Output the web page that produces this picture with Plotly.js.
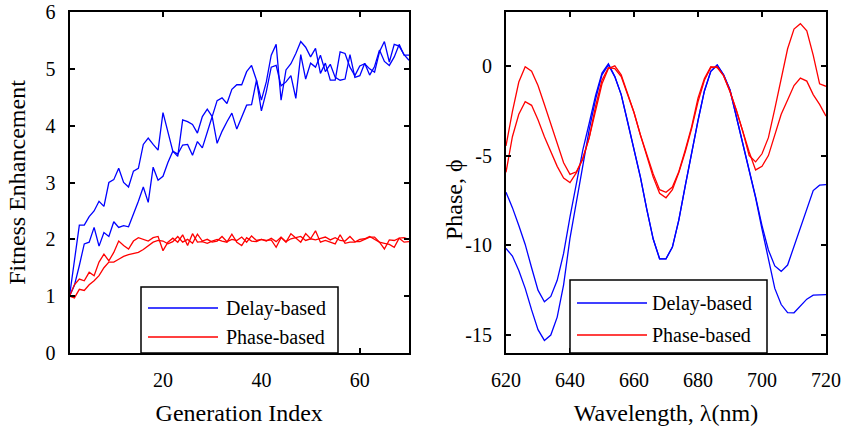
<!DOCTYPE html>
<html>
<head>
<meta charset="utf-8">
<script src="https://cdn.plot.ly/plotly-3.0.1.min.js"></script>
<style>
html,body{margin:0;padding:0;background:#fff;font-family:"Liberation Serif",serif;}
#preload{position:absolute;left:-5000px;top:-5000px;font-family:"Liberation Serif";font-size:20px;}
</style>
</head>
<body>
<span id="preload">.</span>
<div id="chart" style="width:845px;height:429px"></div>
<script>
// ---------- Left panel: fitness enhancement vs generation ----------
const generation = [1,2,3,4,5,6,7,8,9,10,11,12,13,14,15,16,17,18,19,20,21,22,23,24,25,26,27,28,29,30,31,32,33,34,35,36,37,38,39,40,41,42,43,44,45,46,47,48,49,50,51,52,53,54,55,56,57,58,59,60,61,62,63,64,65,66,67,68,69,70];
const delayFitA = [1.00,1.60,2.25,2.25,2.40,2.50,2.67,2.58,3.00,3.05,3.25,3.00,2.92,3.20,3.25,3.67,3.78,3.67,3.57,4.23,3.90,3.55,3.46,4.10,4.07,4.02,3.87,4.16,4.29,4.16,4.44,4.49,4.39,4.64,4.72,4.72,4.95,5.06,4.80,4.45,4.77,5.24,5.43,4.45,4.98,5.09,5.27,5.48,5.38,5.21,5.36,4.92,5.10,4.80,4.80,5.30,5.27,5.03,4.88,5.05,5.09,5.00,4.94,5.30,5.48,5.12,5.43,5.40,5.25,5.15];
const delayFitB = [1.00,1.19,1.54,1.92,1.95,2.21,1.88,2.12,2.05,2.31,2.21,2.24,2.22,2.44,2.67,2.92,2.65,3.27,3.04,3.11,3.35,3.55,3.50,3.66,3.67,3.48,3.72,3.61,3.90,4.16,3.69,3.90,4.07,4.22,3.94,4.16,4.36,4.37,4.80,4.26,4.60,5.03,5.06,4.70,4.77,4.88,4.48,5.25,4.82,5.10,5.03,5.24,4.95,5.08,4.85,4.80,4.82,5.25,4.85,4.88,5.10,4.89,5.04,5.33,5.13,5.06,5.21,5.43,5.24,5.24];
const phaseFitA = [1.00,1.20,1.30,1.27,1.42,1.36,1.60,1.74,1.62,1.77,1.97,1.89,1.83,1.97,2.03,2.00,1.97,2.03,2.05,1.80,1.95,2.02,1.95,2.08,1.89,2.10,1.95,1.96,1.93,1.97,2.00,1.97,1.95,2.09,1.95,1.89,2.03,1.97,1.96,2.00,1.98,1.99,1.86,2.03,1.95,2.10,2.03,1.95,2.10,2.01,2.15,1.95,1.98,1.95,1.92,2.08,1.93,1.95,1.95,2.00,2.01,2.05,2.00,1.95,1.83,1.99,1.98,2.02,1.95,1.96];
const phaseFitB = [1.00,0.97,1.12,1.10,1.20,1.27,1.36,1.50,1.60,1.60,1.65,1.70,1.73,1.75,1.77,1.82,1.88,1.95,1.98,1.97,1.92,1.96,2.05,1.95,2.00,1.93,2.09,1.97,2.00,1.95,1.97,2.05,1.96,2.00,1.98,2.04,1.95,2.06,1.98,2.00,1.97,2.02,1.96,2.04,1.96,2.01,2.03,2.05,1.98,2.01,1.99,2.01,2.04,1.99,2.03,1.98,1.97,2.05,1.96,1.96,2.00,2.04,2.04,1.95,1.93,1.91,1.86,2.02,2.03,2.00];
const leftYTicks = [0,1,2,3,4,5,6];
const leftXTicks = [20,40,60];

// ---------- Right panel: phase vs wavelength ----------
const wavelength = [620,622,624,626,628,630,632,634,636,638,640,642,644,646,648,650,652,654,656,658,660,662,664,666,668,670,672,674,676,678,680,682,684,686,688,690,692,694,696,698,700,702,704,706,708,710,712,714,716,718,720];
const delayPhaseA = [-7.04,-7.90,-8.90,-9.95,-11.25,-12.50,-13.15,-12.85,-11.95,-10.45,-8.42,-6.45,-4.70,-3.20,-1.65,-0.40,0.12,-0.60,-1.60,-3.10,-4.65,-6.20,-8.00,-9.65,-10.75,-10.75,-10.10,-8.60,-6.70,-4.80,-3.05,-1.40,-0.30,0.05,-0.50,-1.35,-2.85,-4.20,-5.70,-7.30,-8.90,-10.26,-11.15,-11.45,-11.10,-10.05,-8.95,-7.95,-6.95,-6.65,-6.62];
const delayPhaseB = [-10.17,-10.60,-11.40,-12.40,-13.60,-14.70,-15.30,-15.00,-14.00,-12.20,-9.60,-7.60,-5.60,-3.55,-1.85,-0.50,0.05,-0.60,-1.60,-3.10,-4.65,-6.20,-8.00,-9.65,-10.75,-10.75,-10.10,-8.60,-6.70,-4.80,-3.05,-1.40,-0.30,0.05,-0.50,-1.35,-2.85,-4.20,-5.70,-7.35,-9.10,-10.80,-12.40,-13.30,-13.75,-13.76,-13.40,-13.00,-12.78,-12.75,-12.75];
const phasePhaseA = [-4.46,-2.55,-0.90,-0.05,-0.30,-1.10,-2.15,-3.20,-4.30,-5.40,-6.05,-5.90,-5.20,-4.00,-2.25,-0.80,-0.10,-0.15,-0.60,-1.60,-2.60,-3.85,-5.00,-6.02,-6.90,-7.05,-6.75,-5.90,-4.70,-3.40,-1.80,-0.70,-0.05,-0.10,-0.55,-1.45,-2.47,-3.65,-5.00,-5.35,-4.90,-4.00,-2.40,-0.70,0.95,2.05,2.35,1.95,0.60,-1.00,-1.14];
const phasePhaseB = [-5.93,-3.95,-2.70,-2.00,-2.20,-3.00,-3.95,-4.75,-5.60,-6.25,-6.50,-5.95,-5.15,-4.00,-2.45,-1.00,-0.15,0.00,-0.50,-1.50,-2.60,-3.85,-5.10,-6.20,-7.10,-7.35,-6.90,-5.95,-4.80,-3.50,-2.00,-0.80,-0.10,-0.05,-0.55,-1.40,-2.50,-3.70,-4.80,-5.80,-5.60,-5.00,-3.80,-2.70,-1.90,-1.10,-0.68,-0.85,-1.60,-2.15,-2.80];
const rightYTicks = [0,-5,-10,-15];
const rightYTickText = ['0','-5','-10','-15'];
const rightXTicks = [620,640,660,680,700,720];

const legendLabels = ['Delay-based','Phase-based'];
const BLUE = '#0000ff', RED = '#ff0000';
const SERIF = 'Liberation Serif';

function makeLine(x, y, color, xa, ya) {
  return {x: x, y: y, type: 'scatter', mode: 'lines', xaxis: xa, yaxis: ya,
          line: {color: color, width: 1.3}, showlegend: false, hoverinfo: 'skip'};
}

const FIG_W = 845, FIG_H = 429, TOPM = 12;
const fx = v => v / FIG_W;
const fy = v => 1 - (v - TOPM) / (FIG_H - TOPM);

function axisBase() {
  return {
    showline: true, linecolor: '#000', linewidth: 2, mirror: 'ticks',
    ticks: 'inside', ticklen: 5, tickwidth: 2, tickcolor: '#000',
    showgrid: false, zeroline: false, automargin: false,
    ticklabeloverflow: 'allow',
    tickfont: {family: SERIF, size: 20, color: '#000'}
  };
}

function legendBox(x0, x1, yTop, yBot, yDelay, yPhase, lx0, lx1, tx) {
  const shapes = [
    {type: 'rect', xref: 'paper', yref: 'paper', x0: fx(x0), x1: fx(x1), y0: fy(yBot), y1: fy(yTop),
     line: {color: '#000', width: 1.5}, fillcolor: '#fff', layer: 'above'},
    {type: 'line', xref: 'paper', yref: 'paper', x0: fx(lx0), x1: fx(lx1), y0: fy(yDelay), y1: fy(yDelay),
     line: {color: BLUE, width: 1.3}, layer: 'above'},
    {type: 'line', xref: 'paper', yref: 'paper', x0: fx(lx0), x1: fx(lx1), y0: fy(yPhase), y1: fy(yPhase),
     line: {color: RED, width: 1.3}, layer: 'above'}
  ];
  const ann = [
    {xref: 'paper', yref: 'paper', x: fx(tx), y: fy(yDelay), xanchor: 'left', yanchor: 'middle',
     text: legendLabels[0], showarrow: false, font: {family: SERIF, size: 20, color: '#000'}},
    {xref: 'paper', yref: 'paper', x: fx(tx), y: fy(yPhase), xanchor: 'left', yanchor: 'middle',
     text: legendLabels[1], showarrow: false, font: {family: SERIF, size: 20, color: '#000'}}
  ];
  return {shapes: shapes, ann: ann};
}

function draw() {
  const data = [
    makeLine(generation, delayFitA, BLUE, 'x', 'y'),
    makeLine(generation, delayFitB, BLUE, 'x', 'y'),
    makeLine(generation, phaseFitA, RED, 'x', 'y'),
    makeLine(generation, phaseFitB, RED, 'x', 'y'),
    makeLine(wavelength, delayPhaseA, BLUE, 'x2', 'y2'),
    makeLine(wavelength, delayPhaseB, BLUE, 'x2', 'y2'),
    makeLine(wavelength, phasePhaseA, RED, 'x2', 'y2'),
    makeLine(wavelength, phasePhaseB, RED, 'x2', 'y2')
  ];
  const legL = legendBox(141, 338, 287, 353, 308, 337, 148, 218, 224);
  const legR = legendBox(570, 767, 280, 353, 303, 335, 577, 647, 650);
  const phaseTitle = {xref: 'paper', yref: 'paper', x: fx(454), y: fy(200), xanchor: 'center', yanchor: 'middle',
    text: 'Phase, ϕ', textangle: -90, showarrow: false, font: {family: SERIF, size: 24, color: '#000'}};
  const layout = {
    width: FIG_W, height: FIG_H,
    margin: {l: 0, r: 0, t: TOPM, b: 0},
    paper_bgcolor: '#fff', plot_bgcolor: '#fff',
    showlegend: false,
    font: {family: SERIF, size: 20, color: '#000'},
    xaxis: Object.assign(axisBase(), {
      domain: [fx(69.5), fx(409)], range: [1, 70], tickvals: leftXTicks,
      title: {text: 'Generation Index', font: {family: SERIF, size: 24, color: '#000'}, standoff: 14},
      ticklabelstandoff: 8, anchor: 'y'
    }),
    yaxis: Object.assign(axisBase(), {
      domain: [fy(353), 1], range: [0, 6], tickvals: leftYTicks,
      title: {text: 'Fitness Enhancement', font: {family: SERIF, size: 24, color: '#000'}, standoff: 13},
      ticklabelstandoff: 8, anchor: 'x'
    }),
    xaxis2: Object.assign(axisBase(), {
      domain: [fx(506), fx(826)], range: [620, 720], tickvals: rightXTicks,
      title: {text: 'Wavelength, λ(nm)', font: {family: SERIF, size: 24, color: '#000'}, standoff: 14},
      ticklabelstandoff: 8, anchor: 'y2'
    }),
    yaxis2: Object.assign(axisBase(), {
      domain: [fy(353), 1], range: [-16, 3], tickvals: rightYTicks, ticktext: rightYTickText,
      ticklabelstandoff: 8, anchor: 'x2'
    }),
    shapes: legL.shapes.concat(legR.shapes),
    annotations: legL.ann.concat(legR.ann, [phaseTitle])
  };
  Plotly.newPlot('chart', data, layout, {displayModeBar: false});
}

if (document.fonts && document.fonts.load) {
  document.fonts.load('20px "Liberation Serif"').then(draw, draw);
} else {
  draw();
}
</script>
</body>
</html>
